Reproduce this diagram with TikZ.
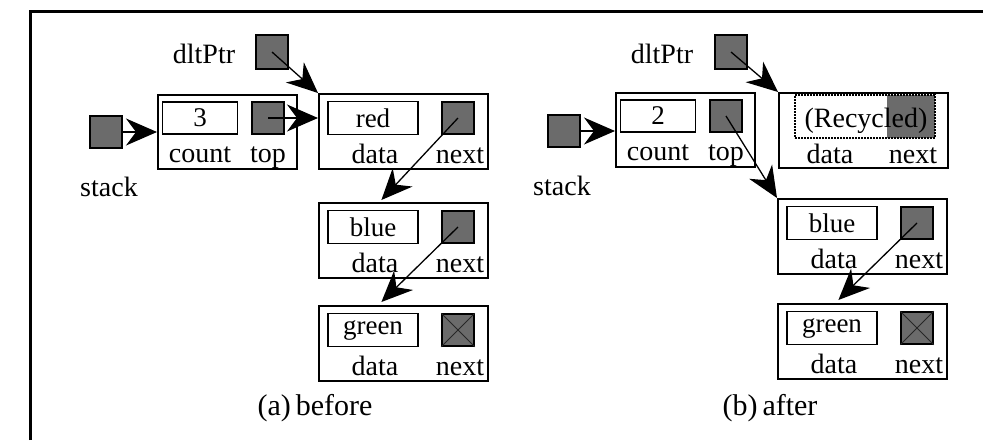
\documentclass[tikz,border=0pt]{standalone}
\usepackage{fontspec}
\setmainfont{Liberation Serif}
\usetikzlibrary{arrows.meta,calc}

% one list cell: outer box, data field, next pointer and the two labels
\newcommand{\drawcell}[4]{%
  \node[cellbox,anchor=north west] (#1) at (#2,#3) {};
  \node[field] (#1d) at ($(#1.north west)+(55,25)$) {#4};
  \node[ptr] (#1n) at ($(#1.north west)+(140,25)$) {};
  \node[lbl] (#1dl) at ($(#1.south west)+(57,-6)$) {data};
  \node[lbl] (#1nl) at ($(#1.south west)+(142,-6)$) {next};
}

% stack head: count field, top pointer and labels
\newcommand{\drawhead}[4]{%
  \node[headbox,anchor=north west] (#1) at (#2,#3) {};
  \node[cfield] (#1c) at ($(#1.north west)+(43,24)$) {#4};
  \node[ptr] (#1t) at ($(#1.north west)+(111,24)$) {};
  \node[lbl] (#1cl) at ($(#1.south west)+(43,-7)$) {count};
  \node[lbl] (#1tl) at ($(#1.south west)+(111,-7)$) {top};
}

\begin{document}
\begin{tikzpicture}[x=1pt,y=-1pt,
  lbl/.style={anchor=base,inner sep=0pt,font=\fontsize{28}{30}\selectfont},
  captext/.style={anchor=base,inner sep=0pt,font=\fontsize{30}{32}\selectfont},
  ptr/.style={draw,line width=1.5pt,fill=black!58,minimum size=32pt,inner sep=0pt},
  field/.style={draw,line width=1.5pt,minimum width=90pt,minimum height=33pt,inner sep=0pt,font=\fontsize{27}{28}\selectfont},
  cfield/.style={field,minimum width=75pt,minimum height=32pt},
  cellbox/.style={draw,line width=1.8pt,minimum width=169pt,minimum height=75pt,inner sep=0pt},
  headbox/.style={draw,line width=1.8pt,minimum width=139pt,minimum height=74pt,inner sep=0pt},
  link/.style={line width=1.3pt,-{Stealth[length=31pt,width=27pt,inset=10pt]}},
  nullx/.style={line width=1pt,black!85},
]
\useasboundingbox (0,0) rectangle (983,440);

% frame
\draw[line width=3pt] (30,440) -- (30,11) -- (983,11);

% ---------- (a) before ----------
\node[lbl] (dAl) at (204,63) {dltPtr};
\node[ptr,minimum height=34pt] (dA) at (272,52) {};
\node[ptr] (stA) at (106,132) {};
\node[lbl] (stAl) at (109,196) {stack};
\drawhead{sA}{157}{94}{3}
\drawcell{rA}{318}{93}{red}
\drawcell{bA}{318}{202}{blue}
\drawcell{gA}{318}{305}{green}
\draw[nullx] (gAn.north west) -- (gAn.south east) (gAn.north east) -- (gAn.south west);
\node[captext] (capA) at (315,415) {(a)\,before};

\draw[link] (stA) -- (stA -| sA.west);
\draw[link] (sAt.center) -- (sAt.center -| rA.west);
\draw[link] (dA.center) -- (rA.north west);
\draw[link] (rAn.center) -- ($(bA.north)+(-22,-2)$);
\draw[link] (bAn.center) -- ($(gA.north)+(-22,-3)$);

% ---------- (b) after ----------
\node[lbl] (dBl) at (662,63) {dltPtr};
\node[ptr,minimum height=34pt] (dB) at (731,52) {};
\node[ptr] (stB) at (564,131) {};
\node[lbl] (stBl) at (562,195) {stack};
\drawhead{sB}{615}{92}{2}

% recycled cell
\node[cellbox,anchor=north west] (rB) at (778,92) {};
\node[fill=black!58,minimum width=48pt,minimum height=43pt,inner sep=0pt] (rBn) at ($(rB.north west)+(133,24.5)$) {};
\node[draw,densely dotted,line width=2pt,minimum width=140pt,minimum height=43pt,inner sep=0pt] (rBd) at ($(rB.north west)+(87,24.5)$) {};
\node[lbl] (rBt) at ($(rB.north west)+(88,35)$) {(Recycled)};
\node[lbl] (rBdl) at ($(rB.south west)+(52,-5)$) {data};
\node[lbl] (rBnl) at ($(rB.south west)+(135,-5)$) {next};

\drawcell{bB}{777}{198}{blue}
\drawcell{gB}{777}{303}{green}
\draw[nullx] (gBn.north west) -- (gBn.south east) (gBn.north east) -- (gBn.south west);
\node[captext] (capB) at (770,415) {(b)\,after};

\draw[link] (stB) -- (stB -| sB.west);
\draw[link] (dB.center) -- (rB.north west);
\draw[link] (sBt.center) -- (bB.north west);
\draw[link] (bBn.center) -- ($(gB.north)+(-24,-3)$);
\end{tikzpicture}
\end{document}
